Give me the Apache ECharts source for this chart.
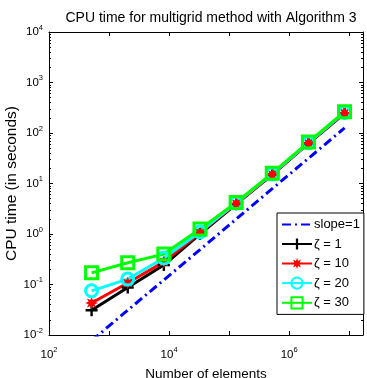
<!DOCTYPE html>
<html><head><meta charset="utf-8">
<script src="https://cdn.jsdelivr.net/npm/echarts@6/dist/echarts.min.js"></script>
<style>html,body{margin:0;padding:0;background:#fff}#c{width:367px;height:378px}</style>
</head><body><div id="c"></div>
<script>
var elements = [512, 2048, 8192, 32768, 131072, 524288, 2097152, 8388608];
var slope1 = [0.0077, 0.031, 0.123, 0.49, 1.97, 7.9, 31.5, 126];
var zeta1  = [0.031, 0.087, 0.243, 1.0, 3.9, 15, 62, 245];
var zeta10 = [0.043, 0.107, 0.28, 1.05, 4.0, 15, 63, 250];
var zeta20 = [0.075, 0.128, 0.335, 1.1, 4.1, 15.5, 64, 255];
var zeta30 = [0.17, 0.27, 0.40, 1.25, 4.2, 16, 66, 265];
var seriesNames = ['slope=1', '\u03b6 = 1', '\u03b6 = 10', '\u03b6 = 20', '\u03b6 = 30'];
var titleText = 'CPU time for multigrid method with Algorithm 3';
var xName = 'Number of elements';
var yName = 'CPU time (in seconds)';

function pairs(v){ return elements.map(function(x,i){ return [x, v[i]]; }); }

// marker shapes
var plusPath = 'path://M4,0 H6 V4 H10 V6 H6 V10 H4 V6 H0 V4 H4 Z';
var starPts = [];
for (var k = 0; k < 16; k++) {
  var a = k * Math.PI / 8 - Math.PI/2;
  var r = (k % 2 === 0) ? 10 : 5;
  starPts.push((10 + r*Math.cos(a)).toFixed(2) + ',' + (10 + r*Math.sin(a)).toFixed(2));
}
var starPath = 'path://M' + starPts.join(' L') + ' Z';

var font = 'Liberation Sans, Arial, sans-serif';
function logLabel(keepEven){
  return function(v){
    var e = Math.log10(v);
    var r = Math.round(e);
    if (Math.abs(e - r) > 1e-6) return '';
    if (keepEven && r % 2 !== 0) return '';
    return '{b|10}{s|' + r + '}';
  };
}
var rich = {
  b: {fontSize: 11.5, fontFamily: font, color: '#000'},
  s: {fontSize: 7.5, fontFamily: font, color: '#000', padding: [0,0,9,0]}
};

var chart = echarts.init(document.getElementById('c'), null, {renderer: 'canvas'});
var xMin = 100, xMax = 17000000;
chart.setOption({
  animation: false,
  backgroundColor: '#fff',
  title: {
    text: titleText, left: 206, top: 6, textAlign: 'center',
    textStyle: {fontSize: 14, fontWeight: 'normal', fontFamily: font, color: '#000'}
  },
  grid: {left: 49, right: 4, top: 32, bottom: 43, containLabel: false, outerBoundsMode: 'none'},
  legend: {
    orient: 'vertical', left: 277, top: 213,
    backgroundColor: '#fff', borderColor: '#000', borderWidth: 1, borderRadius: 0,
    padding: [5, 4, 5, 4], itemGap: 6.5, itemWidth: 30, itemHeight: 14,
    textStyle: {fontSize: 13, fontFamily: font, color: '#000', padding: [0,0,0,-3]},
    data: [
      {name: seriesNames[0], itemStyle: {opacity: 0}},
      seriesNames[1], seriesNames[2], seriesNames[3], seriesNames[4]
    ]
  },
  xAxis: [{
    type: 'log', logBase: 10, min: xMin, max: xMax,
    name: xName, nameLocation: 'middle', nameGap: 32,
    nameTextStyle: {fontSize: 13.5, fontFamily: font, color: '#000'},
    axisLine: {lineStyle: {color: '#000', width: 1}},
    axisTick: {inside: true, length: 4, lineStyle: {color: '#000'}},
    axisLabel: {formatter: logLabel(true), rich: rich, margin: 11, showMaxLabel: false},
    splitLine: {show: false}
  }, {
    type: 'log', logBase: 10, min: xMin, max: xMax, position: 'top',
    axisLine: {lineStyle: {color: '#000', width: 1}},
    axisTick: {inside: true, length: 4, lineStyle: {color: '#000'}},
    axisLabel: {show: false}, splitLine: {show: false}
  }],
  yAxis: [{
    type: 'log', logBase: 10, min: 0.01, max: 10000,
    name: yName, nameLocation: 'middle', nameGap: 29, nameMoveOverlap: false,
    nameTextStyle: {fontSize: 15.5, fontFamily: font, color: '#000'},
    axisLine: {lineStyle: {color: '#000', width: 1}},
    axisTick: {inside: true, length: 4, lineStyle: {color: '#000'}},
    minorTick: {show: true, splitNumber: 9, length: 2, lineStyle: {color: '#000'}},
    axisLabel: {formatter: logLabel(false), rich: rich, margin: 6},
    splitLine: {show: false}
  }, {
    type: 'log', logBase: 10, min: 0.01, max: 10000, position: 'right',
    axisLine: {lineStyle: {color: '#000', width: 1}},
    axisTick: {inside: true, length: 4, lineStyle: {color: '#000'}},
    minorTick: {show: true, splitNumber: 9, length: 2, lineStyle: {color: '#000'}},
    axisLabel: {show: false}, splitLine: {show: false}
  }],
  series: [
    {name: seriesNames[0], type: 'line', data: pairs(slope1), showSymbol: false, symbol: 'none',
     lineStyle: {color: '#0000ff', width: 3, type: [9, 4, 2, 4]}, itemStyle: {color: '#0000ff'}},
    {name: seriesNames[1], type: 'line', data: pairs(zeta1), symbol: plusPath, symbolSize: 12,
     lineStyle: {color: '#000', width: 3}, itemStyle: {color: '#000'}},
    {name: seriesNames[2], type: 'line', data: pairs(zeta10), symbol: starPath, symbolSize: 13,
     lineStyle: {color: '#ff0000', width: 3}, itemStyle: {color: '#ff0000'}},
    {name: seriesNames[3], type: 'line', data: pairs(zeta20), symbol: 'circle', symbolSize: 12,
     lineStyle: {color: '#00ffff', width: 3},
     itemStyle: {color: 'rgba(255,255,255,0)', borderColor: '#00ffff', borderWidth: 3}},
    {name: seriesNames[4], type: 'line', data: pairs(zeta30), symbol: 'rect', symbolSize: 12,
     lineStyle: {color: '#00ff00', width: 3},
     itemStyle: {color: 'rgba(255,255,255,0)', borderColor: '#00ff00', borderWidth: 3}}
  ]
});
</script>
</body></html>
